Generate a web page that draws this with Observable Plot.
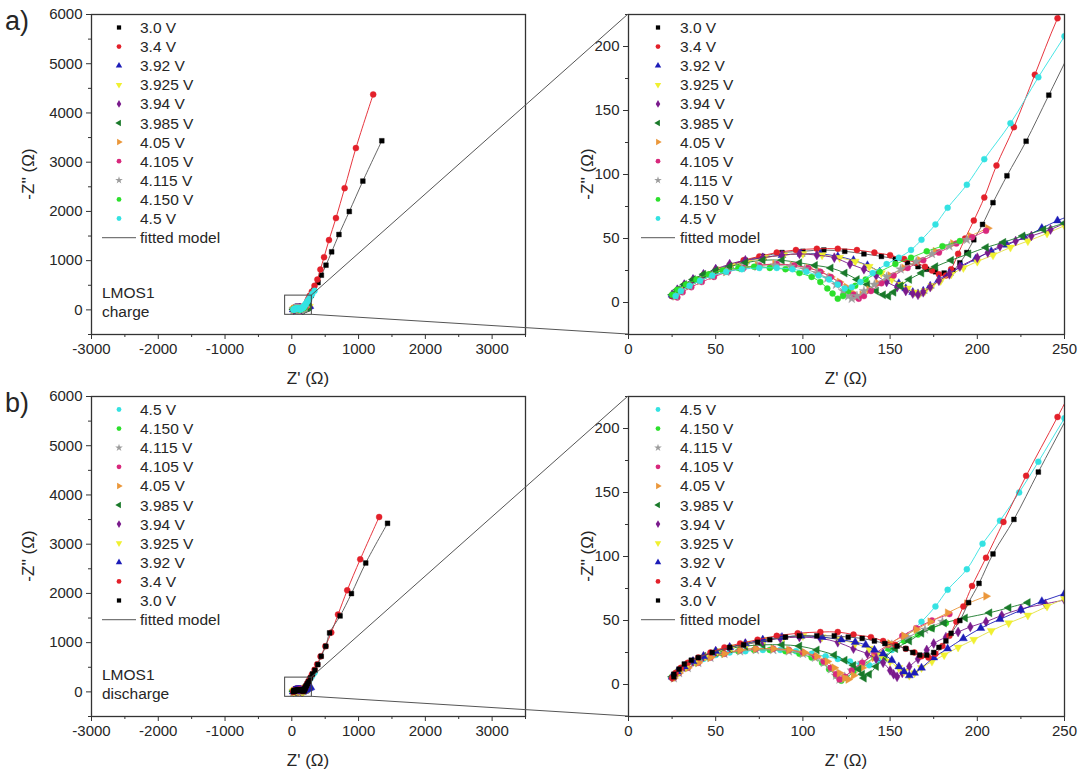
<!DOCTYPE html>
<html><head><meta charset="utf-8">
<script src="https://cdn.jsdelivr.net/npm/d3@7"></script>
<script src="https://cdn.jsdelivr.net/npm/@observablehq/plot@0.6"></script>
<style>
body{margin:0;background:#fff;}
#fig{position:relative;width:1080px;height:774px;overflow:hidden;font-family:"Liberation Sans",Arial,sans-serif;color:#262626;background:#fff;}
.panel{position:absolute;}
#overlay{position:absolute;left:0;top:0;pointer-events:none;}
</style></head><body><div id="fig"></div>
<script>
// ---------------- DATA ----------------
const voltages = ["3.0 V","3.4 V","3.92 V","3.925 V","3.94 V","3.985 V","4.05 V","4.105 V","4.115 V","4.150 V","4.5 V"];
const colors = ["#000000","#e3202a","#1c1cb8","#f0f030","#7a1a8c","#1a7a2a","#eb973a","#d8287c","#9c9c9c","#2ce02c","#34e2e2"];
const lineColors = ["#555555","#e3202a","#1c1cb8","#e2e040","#7a1a8c","#1a7a2a","#eb973a","#d8287c","#9c9c9c","#2ce02c","#34e2e2"];
const symbolNames = ["square","circle","triangle","triangleDown","diamond","triangleLeft","triangleRight","circle","star","circle","circle"];
const chargeOrder = [0,1,2,3,4,5,6,7,8,9,10];
const dischargeOrder = [10,9,8,7,6,5,4,3,2,1,0];

// charge: [Z', -Z''] in ohm
const charge_3_0 = [[25,5],[28,9],[32,13],[37,17],[43,21],[50,25],[58,29],[67,33],[77,36],[88,39],[100,40],[112,41],[124,40],[135,38],[145,36],[153,34],[160,31],[166,28],[171,26],[176,24],[181,23],[186,25],[190,31],[194,39],[198,49],[203,61],[209,78],[217,99],[228,126],[241,162],[262,220],[290,295],[330,400],[393,555],[443,705],[512,908],[597,1179],[706,1531],[861,1998],[1064,2616],[1348,3435]];
const charge_3_4 = [[25,5],[28,9],[32,13],[37,17],[43,21],[50,25],[58,29],[66,33],[75,36],[85,39],[96,41],[108,42],[120,42],[131,41],[141,39],[150,37],[158,34],[165,31],[170,28],[174,25],[178,22],[182,21],[185,26],[189,38],[193,50],[198,64],[204,82],[211,107],[221,137],[233,178],[246,222],[268,285],[300,370],[340,490],[383,616],[428,819],[483,1071],[557,1417],[661,1864],[791,2473],[960,3287],[1219,4376]];
const charge_3_92 = [[25,6],[28,10],[32,14],[37,18],[43,22],[50,26],[58,29],[67,32],[77,35],[88,37],[99,38],[110,38],[120,36],[129,33],[137,29],[144,24],[150,19],[155,15],[159,11],[163,8],[166,7],[169,9],[173,13],[178,18],[184,23],[191,28],[199,34],[208,40],[217,45],[227,51],[237,58],[246,64],[258,70],[270,76]];
const charge_3_925 = [[26,6],[29,10],[33,14],[38,18],[44,22],[51,26],[59,29],[68,32],[78,35],[89,37],[100,38],[111,37],[121,35],[130,32],[138,28],[145,23],[151,18],[156,14],[160,11],[164,8],[167,7],[170,9],[174,13],[179,17],[185,22],[192,27],[200,32],[209,37],[219,43],[229,48],[240,54],[250,60],[262,66]];
const charge_3_94 = [[25,6],[28,10],[32,14],[37,18],[43,22],[50,26],[58,30],[67,33],[77,35],[88,37],[98,38],[108,37],[118,35],[127,30],[135,26],[142,21],[148,16],[154,12],[159,9],[163,7],[166,6],[169,8],[173,12],[178,17],[184,22],[190,28],[200,35],[206,39],[213,44],[222,48],[231,52],[242,57],[252,63],[264,69]];
const charge_3_985 = [[25,6],[28,10],[32,14],[37,18],[43,22],[50,25],[58,28],[67,31],[77,33],[88,33],[98,31],[107,29],[116,27],[124,23],[131,18],[137,14],[142,9],[146,6],[149,5],[152,8],[156,13],[161,18],[168,23],[176,28],[185,33],[195,38],[205,43],[215,47],[226,52],[238,57],[250,62]];
const charge_4_05 = [[27,5],[30,9],[35,13],[41,17],[48,21],[56,24],[65,27],[74,29],[84,30],[94,29],[103,27],[110,24],[116,20],[121,16],[125,12],[128,8],[131,5],[134,6],[138,10],[143,15],[150,21],[158,27],[167,33],[176,40],[186,46],[196,52],[206,58]];
const charge_4_105 = [[28,4],[31,8],[36,12],[42,16],[49,20],[57,24],[66,27],[75,29],[85,30],[95,29],[103,27],[110,24],[116,20],[121,15],[125,10],[129,6],[132,3],[135,5],[139,9],[145,15],[152,21],[160,27],[169,33],[178,39],[188,46],[197,51],[205,56]];
const charge_4_115 = [[27,5],[30,9],[35,13],[41,17],[48,21],[56,24],[65,27],[74,28],[84,29],[93,28],[101,26],[108,23],[114,19],[119,14],[123,9],[126,5],[128,3],[131,5],[135,9],[141,14],[148,20],[156,26],[165,32],[174,38],[184,44],[194,49]];
const charge_4_150 = [[25,6],[28,10],[33,14],[39,18],[46,22],[54,25],[63,27],[72,28],[81,27],[90,26],[98,23],[105,20],[110,16],[114,11],[117,7],[120,3],[123,5],[126,9],[130,13],[136,18],[144,24],[153,30],[162,35],[171,40],[180,44],[190,48]];
const charge_4_5 = [[27,5],[30,9],[35,13],[41,17],[48,21],[56,24],[65,26],[75,27],[85,27],[94,26],[102,24],[109,21],[115,18],[120,14],[124,11],[128,12],[133,16],[140,23],[148,30],[155,35],[162,41],[168,49],[176,61],[183,74],[194,92],[204,112],[219,140],[235,176],[250,208],[275,262],[305,322],[340,388]];

// discharge: [Z', -Z''] in ohm
const discharge_3_0 = [[26,6],[26,8],[29,12],[32,16],[36,19],[40,21],[48,25],[58,29],[66,31],[74,33],[81,35],[90,37],[98,38],[108,38],[118,38],[126,37],[134,36],[141,34],[147,32],[154,30],[159,28],[163,25],[167,23],[171,23],[175,25],[178,29],[182,34],[185,40],[190,50],[195,64],[201,79],[209,102],[221,129],[235,166],[252,210],[280,285],[310,365],[346,440],[390,555],[440,724],[509,927],[566,1198],[723,1543],[893,1996],[1107,2618],[1434,3424]];
const discharge_3_4 = [[25,5],[27,9],[30,13],[34,17],[40,21],[47,25],[55,29],[64,32],[74,35],[85,38],[97,40],[110,41],[120,41],[129,39],[139,37],[146,34],[153,31],[159,28],[164,25],[168,22],[172,21],[176,24],[180,30],[184,38],[188,49],[192,61],[197,77],[205,99],[215,127],[228,163],[246,209],[270,272],[300,350],[340,450],[380,560],[430,720],[503,927],[591,1204],[692,1570],[830,2064],[1025,2693],[1308,3552]];
const discharge_3_92 = [[25,6],[28,10],[32,14],[37,18],[43,22],[50,26],[58,29],[67,32],[77,35],[88,37],[99,38],[111,37],[122,35],[130,33],[136,31],[141,27],[146,24],[151,19],[155,14],[158,10],[161,7],[164,9],[168,13],[175,21],[183,28],[192,36],[202,44],[213,51],[225,58],[237,65],[250,71],[265,80],[285,92]];
const discharge_3_925 = [[26,6],[29,10],[33,14],[38,18],[44,22],[51,26],[59,29],[68,32],[78,35],[89,37],[100,38],[111,37],[121,35],[130,32],[138,28],[145,23],[150,18],[155,13],[158,10],[161,7],[164,9],[168,13],[174,18],[181,23],[189,29],[198,35],[208,42],[218,48],[229,54],[240,61],[250,67]];
const discharge_3_94 = [[25,6],[28,10],[32,14],[37,18],[43,22],[50,26],[58,29],[67,32],[77,34],[87,36],[98,37],[110,36],[120,33],[129,28],[137,24],[142,20],[146,17],[150,11],[152,8],[154,6],[157,9],[161,14],[166,20],[171,27],[175,32],[182,37],[189,41],[196,45],[205,49],[214,54],[225,59],[239,63],[250,66]];
const discharge_3_985 = [[25,6],[28,10],[32,14],[37,18],[43,22],[50,25],[58,28],[67,30],[77,31],[88,31],[98,30],[108,27],[118,23],[124,19],[129,15],[132,12],[134,8],[135,5],[138,8],[142,14],[147,21],[153,28],[161,34],[168,40],[174,44],[181,48],[193,52],[207,56],[218,60],[229,64]];
const discharge_4_05 = [[26,5],[29,9],[34,13],[40,17],[47,21],[55,24],[64,27],[73,28],[83,28],[92,27],[101,25],[108,22],[114,18],[118,13],[121,9],[124,5],[126,4],[129,7],[134,13],[141,21],[150,32],[158,38],[165,43],[173,49],[183,56],[194,63],[205,69]];
const discharge_4_105 = [[26,5],[29,9],[34,13],[40,17],[47,21],[55,24],[64,27],[73,28],[83,28],[92,27],[100,25],[107,22],[112,18],[116,13],[119,8],[121,4],[124,6],[128,11],[134,17],[141,24],[149,31],[157,38],[165,44],[174,50],[184,55]];
const discharge_4_115 = [[26,5],[29,9],[34,13],[40,17],[47,21],[55,24],[64,26],[73,27],[83,27],[92,26],[100,24],[107,21],[112,17],[116,12],[119,7],[121,4],[124,6],[128,11],[134,17],[142,24],[151,31],[160,37],[170,43],[180,49]];
const discharge_4_150 = [[25,6],[28,10],[33,14],[39,18],[46,21],[54,24],[63,26],[72,27],[81,27],[90,26],[98,24],[105,21],[111,17],[115,12],[119,7],[122,3],[125,5],[129,10],[134,15],[141,21],[149,28],[158,34],[166,39],[174,44],[182,48]];
const discharge_4_5 = [[25,5],[28,9],[32,13],[37,17],[43,20],[50,23],[58,25],[67,26],[77,27],[87,27],[96,26],[105,24],[113,22],[120,20],[127,18],[133,16],[138,15],[144,19],[151,27],[159,37],[168,49],[176,61],[183,74],[194,90],[203,110],[213,128],[224,150],[235,174],[250,208],[275,262],[305,322],[340,390]];

// axes ticks
const fullXTicks = [-3000,-2000,-1000,0,1000,2000,3000];
const fullXMinor = [-2500,-1500,-500,500,1500,2500,3500];
const fullYTicks = [0,1000,2000,3000,4000,5000,6000];
const fullYMinor = [-500,500,1500,2500,3500,4500,5500];
const zoomXTicks = [0,50,100,150,200,250];
const zoomXMinor = [25,75,125,175,225];
const zoomYTicks = [0,50,100,150,200];
const zoomYMinor = [-25,25,75,125,175,225];
const fullXDomain = [-3000,3500];
const fullYDomain = [-500,6000];
const zoomXDomain = [0,250];
const zoomYDomain = [-25,225];
// zoom window drawn on the full-range panels (data units)
const zoomBoxX = [-100,300];
const zoomBoxY = [-100,290];
const xTitle = "Z' (Ω)";
const yTitle = "-Z'' (Ω)";

const chargeSets = [charge_3_0,charge_3_4,charge_3_92,charge_3_925,charge_3_94,charge_3_985,charge_4_05,charge_4_105,charge_4_115,charge_4_150,charge_4_5];
const dischargeSets = [discharge_3_0,discharge_3_4,discharge_3_92,discharge_3_925,discharge_3_94,discharge_3_985,discharge_4_05,discharge_4_105,discharge_4_115,discharge_4_150,discharge_4_5];

// ---------------- SYMBOLS ----------------
const triDown = {draw(c, s){ const r = Math.sqrt(s/1.73); c.moveTo(-r,-r*0.58); c.lineTo(r,-r*0.58); c.lineTo(0,r*1.15); c.closePath(); }};
const triLeft = {draw(c, s){ const r = Math.sqrt(s/1.73); c.moveTo(-r*1.15,0); c.lineTo(r*0.58,-r); c.lineTo(r*0.58,r); c.closePath(); }};
const triRight = {draw(c, s){ const r = Math.sqrt(s/1.73); c.moveTo(r*1.15,0); c.lineTo(-r*0.58,-r); c.lineTo(-r*0.58,r); c.closePath(); }};
const symbolMap = {square:d3.symbolSquare, circle:d3.symbolCircle, triangle:d3.symbolTriangle, diamond:d3.symbolDiamond, star:d3.symbolStar, triangleDown:triDown, triangleLeft:triLeft, triangleRight:triRight};
const symbols = symbolNames.map(n => symbolMap[n]);

// ---------------- LAYOUT ----------------
const FONT = '"Liberation Sans", Arial, Helvetica, sans-serif';
const TXT = "#262626";
const fig = document.getElementById("fig");
const PW = 540, PH = 390;
const panels = [
  {key:"a-full", left:0, top:0, sets:chargeSets, order:chargeOrder, full:true, note:["LMOS1","charge"]},
  {key:"a-zoom", left:540, top:0, sets:chargeSets, order:chargeOrder, full:false},
  {key:"b-full", left:0, top:382, sets:dischargeSets, order:dischargeOrder, full:true, note:["LMOS1","discharge"]},
  {key:"b-zoom", left:540, top:382, sets:dischargeSets, order:dischargeOrder, full:false}
];
const M = {full:{left:91,right:15,top:14,bottom:56}, zoom:{left:88,right:16,top:14,bottom:56}};

function makePlot(p){
  const m = p.full ? M.full : M.zoom;
  const clip = !p.full;
  const marks = [];
  for (const i of p.order){
    const pts = p.sets[i];
    marks.push(Plot.line(pts, {x:d=>d[0], y:d=>d[1], stroke:lineColors[i], strokeWidth:1, strokeOpacity:0.9, curve:"catmull-rom", clip}));
    marks.push(Plot.dot(pts, {x:d=>d[0], y:d=>d[1], symbol:symbols[i], r: i===0 ? 2.7 : 3, fill:colors[i], stroke:colors[i], strokeWidth:0.4, clip}));
  }
  if (p.full){
    marks.push(Plot.rect([{x1:zoomBoxX[0],x2:zoomBoxX[1],y1:zoomBoxY[0],y2:zoomBoxY[1]}], {x1:"x1",x2:"x2",y1:"y1",y2:"y2", fill:"none", stroke:"#444", strokeWidth:1}));
  }
  const xt = p.full ? fullXTicks : zoomXTicks, xm = p.full ? fullXMinor : zoomXMinor;
  const yt = p.full ? fullYTicks : zoomYTicks, ym = p.full ? fullYMinor : zoomYMinor;
  const axisStyle = {stroke:"#333", color:TXT, fill:TXT, fontSize:15, tickPadding:4};
  marks.push(
    Plot.frame({stroke:"#333", strokeWidth:1.3}),
    Plot.axisX(xt, {...axisStyle, tickSize:5, tickFormat:d=>String(d), label:null}),
    Plot.axisX(xm, {stroke:"#333", tickSize:3, tickFormat:()=> "", label:null}),
    Plot.axisY(yt, {...axisStyle, tickSize:5, tickFormat:d=>String(d), label:null}),
    Plot.axisY(ym, {stroke:"#333", tickSize:3, tickFormat:()=> "", label:null})
  );
  const plot = Plot.plot({
    width:PW, height:PH,
    marginLeft:m.left, marginRight:m.right, marginTop:m.top, marginBottom:m.bottom,
    x:{domain: p.full ? fullXDomain : zoomXDomain, label:xTitle},
    y:{domain: p.full ? fullYDomain : zoomYDomain, label:yTitle},
    style:{fontFamily:FONT, fontSize:"15px", color:TXT, background:"transparent", overflow:"visible"},
    marks
  });
  const div = document.createElement("div");
  div.className = "panel";
  div.style.left = p.left + "px";
  div.style.top = p.top + "px";
  div.appendChild(plot);
  fig.appendChild(div);
  p.plot = plot; p.m = m;
  return plot;
}
panels.forEach(makePlot);

// ---------------- OVERLAY (axis titles, legends, notes, zoom connectors, panel letters) ----------------
const ov = d3.select(fig).append("svg").attr("id","overlay").attr("width",1080).attr("height",774)
  .style("font-family", FONT).style("fill", TXT);

function connectors(full, zoom){
  const sx = full.plot.scale("x"), sy = full.plot.scale("y");
  const zx = zoom.plot.scale("x"), zy = zoom.plot.scale("y");
  const bx = full.left + sx.apply(zoomBoxX[1]);
  const byTop = full.top + sy.apply(zoomBoxY[1]);
  const byBot = full.top + sy.apply(zoomBoxY[0]);
  const zx0 = zoom.left + zx.apply(zoomXDomain[0]);
  const zyTop = zoom.top + zy.apply(zoomYDomain[1]);
  const zyBot = zoom.top + zy.apply(zoomYDomain[0]);
  ov.append("line").attr("x1",bx).attr("y1",byTop).attr("x2",zx0).attr("y2",zyTop).attr("stroke","#555").attr("stroke-width",1);
  ov.append("line").attr("x1",bx).attr("y1",byBot).attr("x2",zx0).attr("y2",zyBot).attr("stroke","#555").attr("stroke-width",1);
}
connectors(panels[0], panels[1]);
connectors(panels[2], panels[3]);

function titles(p){
  const fl = p.left + p.m.left, fr = p.left + PW - p.m.right;
  const ft = p.top + p.m.top, fb = p.top + PH - p.m.bottom;
  ov.append("text").attr("x",(fl+fr)/2).attr("y",fb+50).attr("text-anchor","middle").attr("font-size",17).attr("fill",TXT).text(xTitle);
  const yx = p.full ? 34 : 593;
  ov.append("text").attr("transform",`translate(${yx},${(ft+fb)/2}) rotate(-90)`).attr("text-anchor","middle").attr("font-size",17).attr("fill",TXT).text(yTitle);
}
panels.forEach(titles);

function legend(p){
  const fx = p.left + p.m.left, fy = p.top + p.m.top;
  const symX = p.full ? 28 : 30, txtX = p.full ? 49 : 52, l1 = p.full ? 11 : 13, l2 = p.full ? 45 : 47;
  const g = ov.append("g").attr("transform", `translate(${fx},${fy})`);
  p.order.forEach((i, k) => {
    const y = 13.5 + k*19.1;
    g.append("path").attr("d", d3.symbol(symbols[i], 18)()).attr("transform", `translate(${symX},${y})`).attr("fill", colors[i]);
    g.append("text").attr("x", txtX).attr("y", y).attr("dy","0.36em").attr("font-size",15.5).attr("fill",TXT).text(voltages[i]);
  });
  const yf = 13.5 + 11*19.1;
  g.append("line").attr("x1", l1).attr("x2", l2).attr("y1", yf).attr("y2", yf).attr("stroke","#777").attr("stroke-width",1.2);
  g.append("text").attr("x", txtX).attr("y", yf).attr("dy","0.36em").attr("font-size",15.5).attr("fill",TXT).text("fitted model");
  if (p.note){
    const fb = p.top + PH - p.m.bottom;
    ov.append("text").attr("x", fx + 11).attr("y", fb - 36).attr("font-size",15.5).attr("fill",TXT).text(p.note[0]);
    ov.append("text").attr("x", fx + 11).attr("y", fb - 17).attr("font-size",15.5).attr("fill",TXT).text(p.note[1]);
  }
}
panels.forEach(legend);

ov.append("text").attr("x",5).attr("y",30).attr("font-size",27).attr("fill",TXT).text("a)");
ov.append("text").attr("x",5).attr("y",412).attr("font-size",27).attr("fill",TXT).text("b)");
</script></body></html>
